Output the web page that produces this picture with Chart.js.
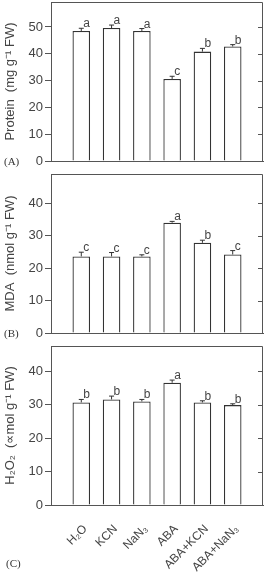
<!DOCTYPE html>
<html>
<head>
<meta charset="utf-8">
<script src="https://cdn.jsdelivr.net/npm/chart.js@4.4.0/dist/chart.umd.min.js"></script>
<style>
  body { margin: 0; background: #fff; }
  #wrap { position: relative; width: 265px; height: 576px; }
  canvas { position: absolute; left: 0; }
  .tag { position: absolute; font: 11px "Liberation Serif", serif; color: #333; line-height: 14px; }
</style>
</head>
<body>
<div id="wrap">
  <canvas id="cA" width="265" height="172" style="top:0"></canvas>
  <canvas id="cB" width="265" height="172" style="top:172px"></canvas>
  <canvas id="cC" width="265" height="232" style="top:344px"></canvas>
  <div class="tag" style="left:4px;top:154px">(A)</div>
  <div class="tag" style="left:4px;top:326px">(B)</div>
  <div class="tag" style="left:6px;top:556px">(C)</div>
</div>
<script>
// treatments (empty slots at both ends keep the spacing of the original)
const treatments = ["", "H₂O", "KCN", "NaN₃", "ABA", "ABA+KCN", "ABA+NaN₃", ""];

const protein = [48.5, 49.6, 48.5, 30.6, 40.8, 42.7];
const proteinErr = [1.0, 1.1, 0.9, 1.0, 1.2, 0.7];
const proteinLetters = ["a", "a", "a", "c", "b", "b"];

const mda = [23.6, 23.6, 23.6, 34.0, 27.8, 24.2];
const mdaErr = [1.3, 1.2, 0.5, 0.4, 0.8, 1.2];
const mdaLetters = ["c", "c", "c", "a", "b", "c"];

const h2o2 = [30.7, 31.6, 31.0, 36.6, 30.7, 29.9];
const h2o2Err = [0.9, 1.0, 0.6, 0.8, 0.5, 0.4];
const h2o2Letters = ["b", "b", "b", "a", "b", "b"];

const yTicks = [0, 10, 20, 30, 40, 50];

const axisCol = "#555";
const textCol = "#444";
const sans = "'Liberation Sans', Arial, sans-serif";

// error bars + significance letters
const errPlugin = {
  id: "errs",
  afterDatasetsDraw(chart, args, opts) {
    const ctx = chart.ctx;
    const y = chart.scales.y;
    const bars = chart.getDatasetMeta(0).data;
    ctx.save();
    ctx.strokeStyle = "#333";
    ctx.lineWidth = 1;
    ctx.fillStyle = textCol;
    ctx.font = "12px " + sans;
    ctx.textAlign = "left";
    ctx.textBaseline = "alphabetic";
    opts.values.forEach((v, i) => {
      const b = bars[i + 1];
      const top = y.getPixelForValue(v);
      const et = y.getPixelForValue(v + opts.errors[i]);
      ctx.beginPath();
      ctx.moveTo(b.x, top);
      ctx.lineTo(b.x, et);
      ctx.moveTo(b.x - 2.5, et);
      ctx.lineTo(b.x + 2.5, et);
      ctx.stroke();
      ctx.fillText(opts.letters[i], b.x + 2, et - 1);
    });
    ctx.restore();
  }
};

// box on top/right and inward ticks on the right side
const boxPlugin = {
  id: "box",
  afterDraw(chart) {
    const ctx = chart.ctx;
    const a = chart.chartArea;
    const y = chart.scales.y;
    ctx.save();
    ctx.strokeStyle = axisCol;
    ctx.lineWidth = 1;
    ctx.beginPath();
    ctx.moveTo(a.left, a.top + 0.5);
    ctx.lineTo(a.right - 0.5, a.top + 0.5);
    ctx.lineTo(a.right - 0.5, a.bottom);
    y.ticks.forEach(t => {
      const py = Math.round(y.getPixelForValue(t.value)) + 0.5;
      ctx.moveTo(a.right - 5, py);
      ctx.lineTo(a.right, py);
    });
    ctx.stroke();
    ctx.restore();
  }
};

function makeChart(id, values, errors, letters, yMax, yTitle, showX, xHeight) {
  new Chart(document.getElementById(id), {
    type: "bar",
    data: {
      labels: treatments,
      datasets: [{
        data: [null, ...values, null],
        backgroundColor: "#fff",
        borderColor: "#333",
        borderWidth: 1.3,
        barPercentage: 0.58,
        categoryPercentage: 1
      }]
    },
    options: {
      responsive: false,
      animation: false,
      layout: { padding: { top: 2, right: 2, left: 0, bottom: 0 } },
      plugins: {
        legend: { display: false },
        tooltip: { enabled: false },
        errs: { values: values, errors: errors, letters: letters }
      },
      scales: {
        x: {
          offset: false,
          grid: { display: false },
          border: { display: true, color: axisCol, width: 1 },
          ticks: {
            display: showX,
            color: textCol,
            font: { size: 12, family: sans },
            minRotation: 45,
            maxRotation: 45,
            autoSkip: false,
            padding: 9,
            labelOffset: 4
          },
          afterFit(s) { s.height = xHeight; s.paddingLeft = 0; s.paddingRight = 0; }
        },
        y: {
          min: 0,
          max: yMax,
          afterBuildTicks(s) { s.ticks = yTicks.filter(v => v <= yMax).map(v => ({ value: v })); },
          grid: { drawOnChartArea: false, drawTicks: true, tickLength: 6, color: axisCol },
          border: { display: true, color: axisCol, width: 1 },
          ticks: {
            color: textCol,
            padding: 2,
            font: { size: 13, family: sans }
          },
          title: {
            display: true,
            text: yTitle,
            color: textCol,
            font: { size: 13, family: sans },
            padding: { top: 3, bottom: 0 }
          },
          afterFit(s) { s.width = 51; s.paddingTop = 0; s.paddingBottom = 0; }
        }
      }
    },
    plugins: [errPlugin, boxPlugin]
  });
}

makeChart("cA", protein, proteinErr, proteinLetters, 59.3, "Protein  (mg g⁻¹ FW)", false, 11);
makeChart("cB", mda, mdaErr, mdaLetters, 49.0, "MDA  (nmol g⁻¹ FW)", false, 11);
makeChart("cC", h2o2, h2o2Err, h2o2Letters, 47.6, "H₂O₂  (∝mol g⁻¹ FW)", true, 71);
</script>
</body>
</html>
